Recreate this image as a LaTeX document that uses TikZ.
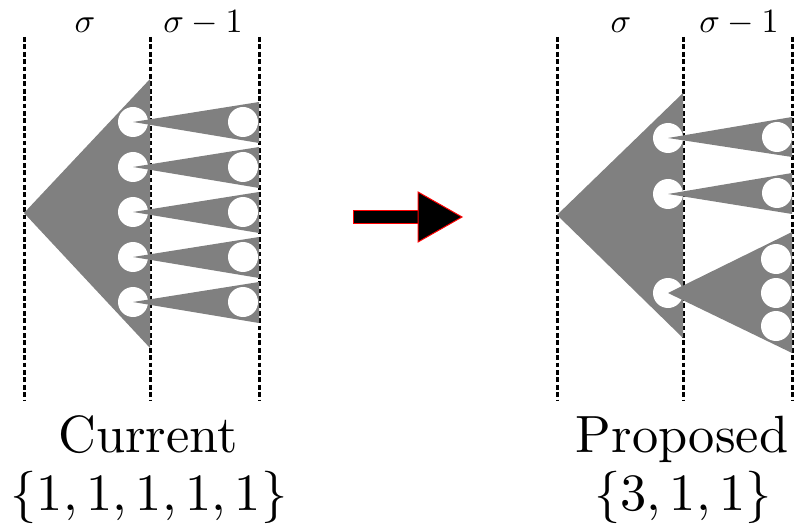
\documentclass[tikz,border=0pt]{standalone}
\begin{document}
\begin{tikzpicture}[x=0.5pt,y=-0.5pt,
  divider/.style={black, line width=1.5pt, dash pattern=on 2.4pt off 1.3pt},
  cone/.style={fill=gray, draw=none},
  hole/.style={circle, fill=white, draw=none, inner sep=0pt, minimum size=15pt},
  level/.style={anchor=base, font=\fontsize{10}{12}\selectfont, scale=1.7},
  caption/.style={anchor=base, font=\fontsize{10}{12}\selectfont, scale=2.62}]
\useasboundingbox (0,0) rectangle (795,523);

% ---------- left panel: current configuration ----------
\foreach \n/\x in {a/24,b/150,c/259}{
  \coordinate (lt\n) at (\x,37);
  \coordinate (lb\n) at (\x,400);
  \draw[divider] (lt\n) -- (lb\n);
}
\coordinate (lapex) at (24,213);
\coordinate (ltop) at (150,79);
\coordinate (lbot) at (150,348);
\fill[cone] (lapex) -- (ltop) -- (lbot) -- cycle;

\foreach \i/\y in {1/122,2/167,3/212,4/257,5/302}{
  \node[hole] (lp\i) at (133,\y) {};
  \coordinate (lu\i) at (259,\y-20);
  \coordinate (ld\i) at (259,\y+21);
  \fill[cone] (lp\i.center) -- (lu\i) -- (ld\i) -- cycle;
  \node[hole] (lc\i) at (243,\y) {};
}

\node[level] (lsig) at (85,33) {$\sigma$};
\node[level] (lsigm) at (203,33) {$\sigma - 1$};
\node[caption] (lname) at (148,452) {Current};
\node[caption] (lset) at (149,510) {$\{1,1,1,1,1\}$};

% ---------- arrow between panels ----------
\filldraw[fill=black, draw=red, line width=0.5pt] (353,211) rectangle (418,224);
\filldraw[fill=black, draw=red, line width=0.5pt] (418,192) -- (462,217) -- (418,242) -- cycle;

% ---------- right panel: proposed configuration ----------
\foreach \n/\x in {a/557,b/683,c/792}{
  \coordinate (rt\n) at (\x,37);
  \coordinate (rb\n) at (\x,400);
  \draw[divider] (rt\n) -- (rb\n);
}
\coordinate (rapex) at (557,215);
\coordinate (rtop) at (683,93);
\coordinate (rbot) at (683,338);
\fill[cone] (rapex) -- (rtop) -- (rbot) -- cycle;

\node[hole] (rp1) at (668,138) {};
\node[hole] (rp2) at (668,194) {};
\node[hole] (rp3) at (668,293) {};

\fill[cone] (rp1.center) -- (792,117) -- (792,157) -- cycle;
\fill[cone] (rp2.center) -- (792,173) -- (792,214) -- cycle;
\fill[cone] (rp3.center) -- (792,232) -- (792,353) -- cycle;

\node[hole] (rc1) at (777,137) {};
\node[hole] (rc2) at (777,193) {};
\node[hole] (rc3) at (776,259) {};
\node[hole] (rc4) at (776,293) {};
\node[hole] (rc5) at (776,326) {};

\node[level] (rsig) at (621,33) {$\sigma$};
\node[level] (rsigm) at (739,33) {$\sigma - 1$};
\node[caption] (rname) at (682,452) {Proposed};
\node[caption] (rset) at (683,510) {$\{3,1,1\}$};
\end{tikzpicture}
\end{document}
